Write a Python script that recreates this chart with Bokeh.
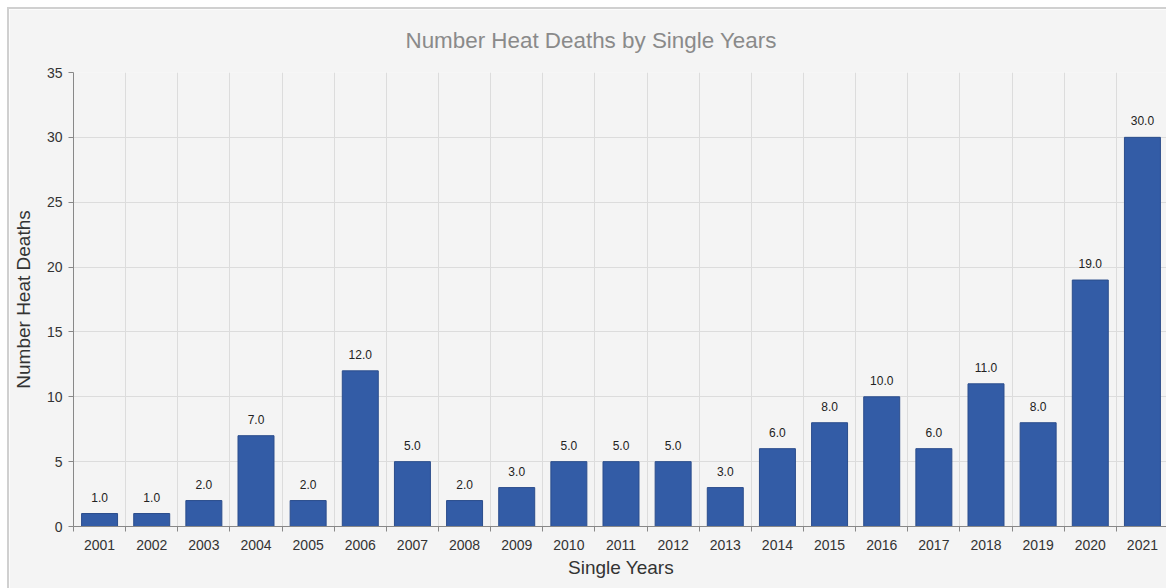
from bokeh.plotting import figure
from bokeh.models import ColumnDataSource, FixedTicker, Range1d, Title
from bokeh.embed import file_html
from bokeh.resources import INLINE

# Heat deaths per single year
years = [2001, 2002, 2003, 2004, 2005, 2006, 2007, 2008, 2009, 2010, 2011,
         2012, 2013, 2014, 2015, 2016, 2017, 2018, 2019, 2020, 2021]
deaths = [1, 1, 2, 7, 2, 12, 5, 2, 3, 5, 5, 5, 3, 6, 8, 10, 6, 11, 8, 19, 30]
y_ticks = [0, 5, 10, 15, 20, 25, 30, 35]

FONT = "Liberation Sans"
BG = "#f4f4f4"

src = ColumnDataSource(dict(
    year=years,
    deaths=deaths,
    label=[f"{d:.1f}" for d in deaths],
))

p = figure(
    width=1159, height=581,
    x_range=Range1d(years[0] - 0.5, years[-1] + 0.5),
    y_range=Range1d(0, 35),
    output_backend="svg", toolbar_location=None,
    min_border_left=63, min_border_top=63, min_border_bottom=64, min_border_right=0,
    background_fill_color=BG, border_fill_color=BG,
    outline_line_color=None,
    margin=(7, 0, 0, 7),
    styles={"border-left": "2px solid #d0d0d0", "border-top": "2px solid #d0d0d0",
            "box-sizing": "border-box"},
)

p.title = Title(text="Number Heat Deaths by Single Years", align="left",
                vertical_align="top", offset=332, standoff=35,
                text_font=FONT, text_font_size="22.4px",
                text_color="#8a8a8a", text_font_style="normal")

p.vbar(x="year", top="deaths", width=0.69, source=src,
       fill_color="#335ca6", line_color="#2b4d8c", line_width=1)

p.text(x="year", y="deaths", text="label", source=src,
       text_align="center", text_baseline="bottom", y_offset=-12,
       text_font_size="12px", text_color="#222222", text_font={"value": FONT})

boundaries = [y + 0.5 for y in range(years[0] - 1, years[-1] + 1)]

# x axis: year labels centred under bars, tick marks between categories
p.xaxis.ticker = FixedTicker(ticks=years, minor_ticks=boundaries)
p.xaxis.major_tick_in = 0
p.xaxis.major_tick_out = 0
p.xaxis.minor_tick_in = 0
p.xaxis.minor_tick_out = 5
p.xaxis.minor_tick_line_color = "#888888"
p.xaxis.axis_line_color = "#888888"
p.xaxis.major_label_text_font = FONT
p.xaxis.major_label_text_font_size = "14px"
p.xaxis.major_label_text_color = "#333333"
p.xaxis.major_label_standoff = 8
p.xaxis.axis_label = "Single Years"
p.xaxis.axis_label_text_font = FONT
p.xaxis.axis_label_text_font_size = "19px"
p.xaxis.axis_label_text_font_style = "normal"
p.xaxis.axis_label_text_color = "#333333"
p.xaxis.axis_label_standoff = 4

p.yaxis.ticker = FixedTicker(ticks=y_ticks)
p.yaxis.minor_tick_line_color = None
p.yaxis.major_tick_in = 0
p.yaxis.major_tick_out = 5
p.yaxis.major_tick_line_color = "#888888"
p.yaxis.axis_line_color = "#888888"
p.yaxis.major_label_text_font = FONT
p.yaxis.major_label_text_font_size = "14px"
p.yaxis.major_label_text_color = "#333333"
p.yaxis.major_label_standoff = 6
p.yaxis.axis_label = "Number Heat Deaths"
p.yaxis.axis_label_text_font = FONT
p.yaxis.axis_label_text_font_size = "19px"
p.yaxis.axis_label_text_font_style = "normal"
p.yaxis.axis_label_text_color = "#333333"
p.yaxis.axis_label_standoff = 10

p.xgrid.ticker = FixedTicker(ticks=boundaries)
p.xgrid.grid_line_color = "#dcdcdc"
p.ygrid.ticker = FixedTicker(ticks=y_ticks)
p.ygrid.grid_line_color = "#dcdcdc"

open("out.html", "w").write(file_html(p, INLINE))
